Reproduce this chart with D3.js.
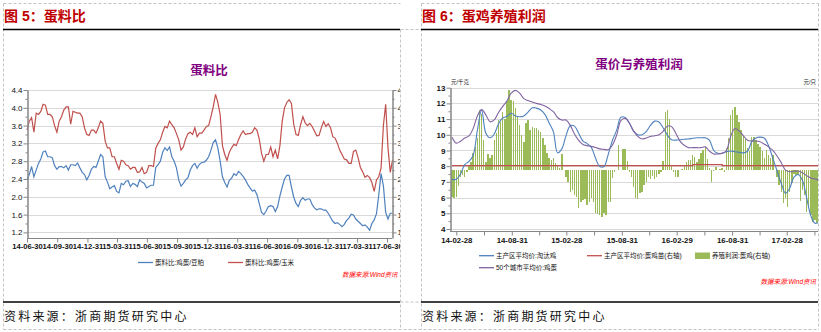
<!DOCTYPE html>
<html><head><meta charset="utf-8">
<script src="https://d3js.org/d3.v7.min.js"></script>
<style>
html,body{margin:0;padding:0;background:#fff;}
svg{display:block;}
text{font-family:"Liberation Sans","Noto Sans CJK SC",sans-serif;}
</style></head><body>
<svg id="c" width="821" height="332"></svg>
<script>
// ---------- DATA: 图5 蛋料比 (weekly from 14-06-30) ----------
const ratioStart = "14-06-30";
const eggCorn = [
3.50,3.70,3.78,3.45,3.88,3.85,3.92,4.08,4.06,3.85,
3.85,3.80,3.60,3.45,3.70,3.80,3.95,4.02,4.02,3.63,
3.92,3.90,3.88,3.88,3.80,3.55,3.40,3.38,3.50,3.50,
3.43,3.55,3.70,3.65,3.25,3.10,3.10,2.90,2.90,2.75,
2.62,2.82,2.80,2.72,2.70,2.62,2.66,2.66,2.55,2.56,
2.66,2.52,2.55,2.70,2.70,2.68,3.09,3.20,3.28,3.45,
3.58,3.55,3.70,3.62,3.55,3.42,3.28,3.05,3.12,3.30,
3.42,3.45,3.40,3.55,3.35,3.43,3.43,3.50,3.58,3.60,
3.80,4.02,4.30,4.12,3.85,3.15,2.95,2.82,3.00,3.10,
3.18,3.15,3.28,3.40,3.48,3.40,3.42,3.42,3.45,3.55,
3.50,3.30,2.98,2.80,2.95,2.95,3.12,2.90,3.05,2.85,
3.15,3.70,4.00,4.12,4.18,4.10,3.63,3.40,3.38,3.62,
3.80,3.66,3.60,3.65,3.58,3.48,3.37,3.38,3.55,3.69,
3.58,3.64,3.55,3.35,3.32,3.20,3.05,2.95,2.85,2.83,
2.75,2.75,3.02,3.05,2.88,2.66,2.56,2.44,2.48,2.43,
2.32,2.12,2.38,2.45,2.65,3.60,4.08,3.10,2.55,2.83];
const eggSoy = [
2.38,2.50,2.68,2.45,2.60,2.75,2.85,3.01,3.03,2.90,
2.90,2.88,2.70,2.62,2.68,2.68,2.65,2.70,2.60,2.72,
2.72,2.70,2.76,2.65,2.55,2.50,2.38,2.48,2.62,2.68,
2.66,2.80,2.95,2.90,2.45,2.33,2.18,2.22,2.25,2.12,
2.09,2.30,2.27,2.35,2.36,2.23,2.30,2.28,2.23,2.38,
2.33,2.30,2.20,2.23,2.26,2.26,2.66,2.72,2.80,3.00,
3.10,3.04,3.12,2.90,2.80,2.65,2.38,2.24,2.30,2.38,
2.43,2.60,2.70,2.75,2.64,2.73,2.77,2.78,2.82,2.90,
3.05,3.22,3.28,3.10,2.80,2.45,2.32,2.22,2.37,2.42,
2.52,2.48,2.57,2.52,2.46,2.38,2.28,2.20,2.13,2.15,
2.05,1.85,1.65,1.60,1.68,1.78,1.80,1.78,1.67,1.78,
2.02,2.22,2.40,2.48,2.48,2.22,1.99,1.85,1.78,1.92,
1.98,1.92,1.95,1.95,1.83,1.75,1.71,1.73,1.73,1.70,
1.70,1.63,1.54,1.45,1.40,1.42,1.38,1.33,1.38,1.47,
1.52,1.61,1.59,1.50,1.45,1.40,1.35,1.37,1.32,1.25,
1.40,1.48,1.62,2.05,2.52,2.25,1.65,1.50,1.63,1.63];
const ratioTickLabels = ["14-06-30","14-09-30","14-12-31","15-03-31","15-06-30","15-09-30","15-12-31","16-03-31","16-06-30","16-09-30","16-12-31","17-03-31","17-06-30"];
const ratioYTicks = [1.2,1.6,2.0,2.4,2.8,3.2,3.6,4.0,4.4];
const ratioNames = ["蛋料比:鸡蛋/豆粕","蛋料比:鸡蛋/玉米"];

// ---------- DATA: 图6 蛋价与养殖利润 ----------
const priceStart = "14-02-14";   // lines every 2 weeks, bars every week
const henPrice = [
7.16,7.16,7.5,8.1,8.3,8.7,10.3,11.58,10.1,9.81,
10.05,10.7,11.07,11.17,11.37,11.2,11.15,11.2,11.45,11.72,
11.7,11.58,11.3,10.75,10.2,8.85,9.1,9.95,10.58,10.55,
10.1,9.6,9.44,9.2,8.5,7.98,7.98,8.75,9.65,10.3,
11.12,11.1,10.75,10.23,10.0,10.0,10.2,10.6,10.87,10.82,
10.45,9.98,9.68,9.66,9.68,9.72,9.73,9.78,9.81,9.81,
9.81,9.65,9.0,8.82,8.83,8.92,8.97,8.92,8.88,8.85,
8.95,9.56,9.8,9.85,9.78,9.3,8.5,7.7,6.9,6.27,
6.6,7.3,7.47,7.1,6.0,4.85,4.36,4.46];
const eggPrice = [
9.85,9.47,9.59,9.79,9.93,10.4,11.2,11.6,11.27,10.83,
10.95,11.42,11.81,12.15,12.65,12.83,12.66,12.3,12.18,12.09,
12.0,11.93,11.83,11.67,11.47,11.1,10.94,10.94,10.6,10.05,
9.64,9.38,9.31,9.26,9.19,9.1,9.07,9.05,9.35,9.99,
10.9,11.05,10.75,10.25,9.9,9.73,9.8,9.89,9.94,10.0,
10.22,10.55,10.52,10.1,9.6,9.33,9.18,9.18,9.18,9.18,
9.23,8.95,8.78,8.78,8.82,9.0,9.9,10.4,10.25,9.95,
9.65,9.6,9.6,9.55,9.4,9.23,9.0,8.65,8.22,7.75,
7.65,7.68,7.69,7.58,7.4,7.25,7.18,7.1];
const chickPrice = [
3.4,3.4,3.4,3.4,3.4,3.4,3.4,3.4,3.4,3.4,
3.4,3.4,3.4,3.4,3.4,3.4,3.4,3.4,3.4,3.4,
3.4,3.4,3.4,3.4,3.4,3.4,3.4,3.4,3.4,3.4,
3.4,3.4,3.4,3.4,3.4,3.4,3.4,3.4,3.4,3.4,
3.4,3.4,3.4,3.4,3.4,3.4,3.4,3.4,3.4,3.4,
3.4,3.4,3.4,3.4,3.4,3.4,3.4,4.1,4.1,4.1,
4.1,4.1,4.1,4.1,3.4,3.4,3.4,3.4,3.4,3.4,
3.4,3.4,3.4,3.4,3.4,3.4,3.4,3.4,3.4,3.4,
3.4,3.4,3.4,3.4,3.4,3.4,3.4,3.4];
const profit = [
-19.1,-19.8,-19.5,-11,-5,-3.3,-4.7,-1,3,5.9,
12.4,17.2,23.3,43.8,40.7,22,5.9,11.9,8.8,11.2,
22,26.9,36.6,35,42.6,37,50,58.3,51.1,50.2,
45,39,33,25.7,20.8,34.2,36.5,29.3,31.7,31,
30.5,29.3,28,23.7,18.4,12.4,8.8,7.5,8.8,5.1,
4,1.5,11.9,0,-4.6,-8.2,-15.5,-14,-17.8,-19,
-27,-22.7,-21.6,-21,-25.1,-22.7,-20.2,-22.7,-31.1,-31.7,
-32.4,-33.6,-31.1,-32.4,-22.7,-22.7,-5.7,-1.2,0.5,18.4,
0.5,15.5,15.5,6.8,-1,-5,-11.8,-20.2,-20.7,-16.6,
-15.5,-10.6,-8.2,-4.6,-6.2,-4,-6,-4.6,-2.3,-1.2,
6.8,42.6,43.8,37.5,3.9,-1,-4.6,-4.6,0.5,1,
3,5.9,7.2,7.2,11.2,10,5.9,8.5,12.4,15,
16,8,1.5,-8.7,-0.5,2.7,0.5,1,1.5,-1.2,
16,23.3,40.2,43.8,46.2,40.2,35,29,25,22.5,
16,13.7,24.5,24.5,22,19.5,17.2,13.7,8.8,14.9,
11.2,8.8,11.2,0,-5,-10.6,-16,-23.9,-20.2,-26.3,
-15.5,-9.4,-2.3,-3.5,-3.5,-22.2,-14.3,-17.8,-30,-26.3,
-32.4,-37.2,-36,-38.4];
const priceTickLabels = ["14-02-28","14-05-31","14-08-31","14-11-30","15-02-28","15-05-31","15-08-31","15-11-30","16-02-29","16-05-31","16-08-31","16-11-30","17-02-28","17-05-31"];
const priceShownLabels = ["14-02-28","14-08-31","15-02-28","15-08-31","16-02-29","16-08-31","17-02-28"];
const priceYTicks = [4,5,6,7,8,9,10,11,12,13];
const priceNames = ["主产区平均价:淘汰鸡","主产区平均价:蛋鸡苗(右轴)","养殖利润:蛋鸡(右轴)","50个城市平均价:鸡蛋"];

// ---------- DRAW ----------
const P = d3.timeParse("%y-%m-%d");
const fmt = d3.timeFormat("%y-%m-%d");
const CJK = '"Noto Sans CJK SC",sans-serif';
const C = {blue:"#4F81BD", red:"#C0504D", green:"#9BBB59", purple:"#8064A2", grid:"#D9D9D9", axis:"#868686"};
const svg = d3.select("#c");
const defs = svg.append("defs");
defs.append("clipPath").attr("id","clipL").append("rect").attr("x",0).attr("y",0).attr("width",400).attr("height",332);
defs.append("clipPath").attr("id","clipR").append("rect").attr("x",421).attr("y",0).attr("width",397).attr("height",332);

// frames
const gf = svg.append("g");
function dl(x1,y1,x2,y2){gf.append("line").attr("x1",x1).attr("y1",y1).attr("x2",x2).attr("y2",y2)
  .attr("stroke","#C4C4C4").attr("stroke-dasharray","3,2");}
dl(3.5,3.5,400.5,3.5); dl(3.5,3.5,3.5,329.5); dl(3.5,329.5,818.5,329.5); dl(400.5,29.5,400.5,329.5);
dl(421.5,3.5,818.5,3.5); dl(421.5,3.5,421.5,329.5); dl(818.5,3.5,818.5,329.5);
dl(400.5,29.5,421.5,29.5); dl(400.5,302,421.5,302);
function bl(x1,x2,y){gf.append("line").attr("x1",x1).attr("x2",x2).attr("y1",y).attr("y2",y).attr("stroke","#000").attr("stroke-width",1.3);}
bl(3,400,29.5); bl(421,818,29.5); bl(3,400,302); bl(421,818,302);
function title(x,t){gf.append("text").attr("x",x).attr("y",21).text(t).attr("font-family",CJK)
  .attr("font-size",14).attr("font-weight","bold").attr("fill","#C00000");}
title(4,"图 5：蛋料比"); title(422,"图 6：蛋鸡养殖利润");
function foot(x){gf.append("text").attr("x",x).attr("y",321).text("资料来源：浙商期货研究中心")
  .attr("font-family",CJK).attr("font-size",12).attr("letter-spacing","2.2px").attr("fill","#111");}
foot(4); foot(422);

// ===== LEFT CHART =====
const gl = svg.append("g").attr("clip-path","url(#clipL)");
const lx = d3.scaleTime().domain([P("14-06-30"),P("17-06-30")]).range([27,387]);
const ly = d3.scaleLinear().domain([1.074,4.4]).range([238,90]);
const rDates = eggCorn.map((_,i)=>d3.timeDay.offset(P(ratioStart),7*i));
gl.append("text").attr("x",209).attr("y",75).attr("text-anchor","middle").text("蛋料比")
  .attr("font-family",CJK).attr("font-size",12.5).attr("font-weight","bold").attr("fill","#800080");
gl.selectAll(".lg").data(ratioYTicks).join("line").attr("x1",27).attr("x2",392)
  .attr("y1",d=>Math.round(ly(d))+0.5).attr("y2",d=>Math.round(ly(d))+0.5).attr("stroke",C.grid);
const lineL = arr => d3.line().x((d,i)=>lx(rDates[i])).y(d=>ly(d))(arr);
gl.append("path").attr("d",lineL(eggCorn)).attr("fill","none").attr("stroke",C.red).attr("stroke-width",1.2);
gl.append("path").attr("d",lineL(eggSoy)).attr("fill","none").attr("stroke",C.blue).attr("stroke-width",1.2);
function styleAxis(g,fs,bold){g.selectAll("path,line").attr("stroke",C.axis);
  g.selectAll("text").attr("font-size",fs).attr("fill","#111").attr("font-weight",bold?"bold":"normal")
   .attr("font-family","'Liberation Sans',Arial,sans-serif");}
const minorL = ratioYTicks.slice(0,-1).map(v=>+(v+0.2).toFixed(1));
let a;
a = gl.append("g").attr("transform","translate(27.5,0)").call(d3.axisLeft(ly).tickValues(ratioYTicks).tickFormat(d3.format(".1f")).tickSize(4).tickPadding(1).tickSizeOuter(0)); styleAxis(a,8,false);
a = gl.append("g").attr("transform","translate(27.5,0)").call(d3.axisLeft(ly).tickValues(minorL).tickFormat("").tickSize(2).tickSizeOuter(0)); styleAxis(a,8);
a = gl.append("g").attr("transform","translate(392.5,0)").call(d3.axisRight(ly).tickValues(ratioYTicks).tickFormat(d3.format(".1f")).tickSize(4).tickPadding(1).tickSizeOuter(0)); styleAxis(a,8,false);
a = gl.append("g").attr("transform","translate(392.5,0)").call(d3.axisRight(ly).tickValues(minorL).tickFormat("").tickSize(2).tickSizeOuter(0)); styleAxis(a,8);
a = gl.append("g").attr("transform","translate(0,238.5)").call(d3.axisBottom(lx).tickValues(ratioTickLabels.map(P)).tickFormat(fmt).tickSize(4).tickPadding(1).tickSizeOuter(0));
a.select(".domain").attr("d","M27,0H392"); styleAxis(a,7.6,true);
// legend
function legLine(g,x,y,col,t){g.append("line").attr("x1",x).attr("x2",x+15).attr("y1",y).attr("y2",y).attr("stroke",col).attr("stroke-width",1.3);
  g.append("text").attr("x",x+17).attr("y",y+2.3).text(t).attr("font-family",CJK).attr("font-size",6.5).attr("fill","#111");}
legLine(gl,138,262.5,C.blue,ratioNames[0]);
legLine(gl,228,262.5,C.red,ratioNames[1]);
gl.append("text").attr("x",342).attr("y",276.5).text("数据来源:Wind资讯").attr("font-family",CJK)
  .attr("font-size",6.5).attr("font-style","italic").attr("fill","#FF0000");

// ===== RIGHT CHART =====
const gr = svg.append("g").attr("clip-path","url(#clipR)");
const rx = d3.scaleTime().domain([P("14-02-28"),P("17-02-28")]).range([456.3,786.7]);
const ry = d3.scaleLinear().domain([3.87,13]).range([231,87.7]);
const ry2 = d3.scaleLinear().domain([-44,60]).range([231,87.7]);
const wDates = profit.map((_,i)=>d3.timeDay.offset(P(priceStart),7*i));
const bDates = henPrice.map((_,i)=>d3.timeDay.offset(P(priceStart),14*i));
gr.append("text").attr("x",639).attr("y",69).attr("text-anchor","middle").text("蛋价与养殖利润")
  .attr("font-family",CJK).attr("font-size",12.5).attr("font-weight","bold").attr("fill","#800080");
gr.selectAll(".rg").data(priceYTicks).join("line").attr("x1",450).attr("x2",818)
  .attr("y1",d=>Math.round(ry(d))+0.5).attr("y2",d=>Math.round(ry(d))+0.5).attr("stroke",C.grid);
gr.append("g").selectAll("rect").data(profit).join("rect")
  .attr("x",(d,i)=>rx(wDates[i])-0.7).attr("width",1.4)
  .attr("y",d=>Math.min(ry2(d),ry2(0))).attr("height",d=>Math.abs(ry2(d)-ry2(0)))
  .attr("fill",C.green).attr("shape-rendering","crispEdges");
gr.append("path").attr("d",d3.line().x((d,i)=>rx(bDates[i])).y(d=>ry2(d)).curve(d3.curveStepAfter)(chickPrice))
  .attr("fill","none").attr("stroke",C.red).attr("stroke-width",1.3);
const lineR = arr => d3.line().x((d,i)=>rx(bDates[i])).y(d=>ry(d)).curve(d3.curveCatmullRom)(arr);
gr.append("path").attr("d",lineR(henPrice)).attr("fill","none").attr("stroke",C.blue).attr("stroke-width",1.1);
gr.append("path").attr("d",lineR(eggPrice)).attr("fill","none").attr("stroke",C.purple).attr("stroke-width",1.1);
const minorR = priceYTicks.slice(0,-1).map(v=>v+0.5);
a = gr.append("g").attr("transform","translate(450.5,0)").call(d3.axisLeft(ry).tickValues(priceYTicks).tickSize(4).tickPadding(1).tickSizeOuter(0)); styleAxis(a,8,true);
a = gr.append("g").attr("transform","translate(450.5,0)").call(d3.axisLeft(ry).tickValues(minorR).tickFormat("").tickSize(2).tickSizeOuter(0)); styleAxis(a,8);
a = gr.append("g").attr("transform","translate(0,231.5)").call(d3.axisBottom(rx).tickValues(priceTickLabels.map(P))
   .tickFormat(d=>priceShownLabels.includes(fmt(d))?fmt(d):"").tickSize(4).tickPadding(2).tickSizeOuter(0));
a.select(".domain").attr("d","M450,0H818"); styleAxis(a,7.8,true);
gr.append("text").attr("x",451).attr("y",84).text("元/千克").attr("font-family",CJK).attr("font-size",5.5).attr("fill","#111");
gr.append("text").attr("x",816).attr("y",84).attr("text-anchor","end").text("元/只").attr("font-family",CJK).attr("font-size",5.5).attr("fill","#111");
legLine(gr,479,255.7,C.blue,priceNames[0]);
legLine(gr,587,255.7,C.red,priceNames[1]);
gr.append("rect").attr("x",695).attr("y",252.5).attr("width",15).attr("height",6.5).attr("fill",C.green);
gr.append("text").attr("x",712).attr("y",258).text(priceNames[2]).attr("font-family",CJK).attr("font-size",6.5).attr("fill","#111");
legLine(gr,479,267.7,C.purple,priceNames[3]);
gr.append("text").attr("x",816).attr("y",284).attr("text-anchor","end").text("数据来源:Wind资讯").attr("font-family",CJK)
  .attr("font-size",6.5).attr("font-style","italic").attr("fill","#FF0000");
</script></body></html>
